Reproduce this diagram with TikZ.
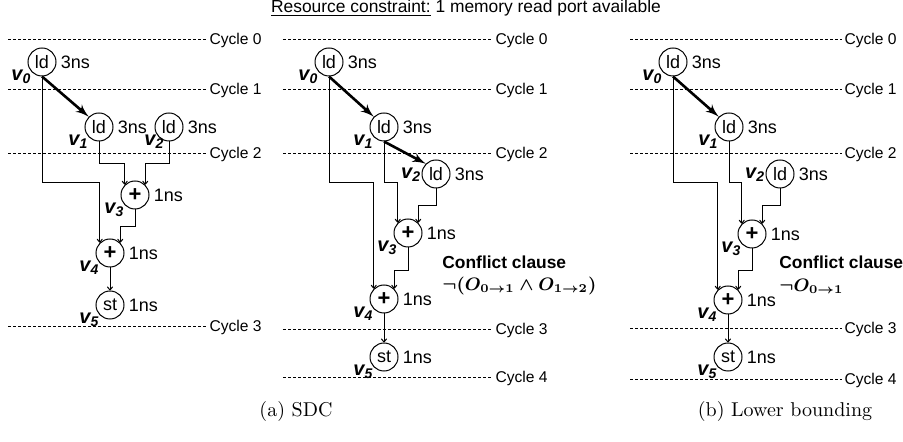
\documentclass[tikz,border=0pt]{standalone}
\usepackage{fontspec}
\setsansfont{Liberation Sans}
\usepackage{amsmath, amssymb}
\usetikzlibrary{positioning, arrows, arrows.meta}

\newcommand{\vlbl}[1]{{\bfseries\itshape v\textsubscript{#1}}}

\tikzset{
    op/.style={draw, circle, line width=0.5pt, minimum size=14pt,
        inner sep=0pt, font=\sffamily\fontsize{9}{9}\selectfont},
    plusop/.style={op, font=\sffamily\bfseries\fontsize{11}{11}\selectfont},
    delay/.style={font=\sffamily\fontsize{9}{9}\selectfont, inner sep=1pt,
        label distance=1pt},
    vname/.style={font=\sffamily\fontsize{10}{10}\selectfont, inner sep=0pt,
        yshift=1.5pt},
    cyc/.style={dash pattern=on 1.5pt off 1pt, line width=0.5pt},
    cyclbl/.style={right, inner sep=1pt, font=\sffamily\fontsize{7.8}{8}\selectfont},
    flow/.style={-{To[length=2pt, width=3pt]}, line width=0.5pt},
    hot/.style={->, line width=1.3pt},
    clause/.style={anchor=west, inner sep=0pt, font=\sffamily\bfseries\fontsize{8.7}{9}\selectfont},
}

\begin{document}
\begin{tikzpicture}[>=latex', x=0.5pt, y=-0.5pt, font=\sffamily]
    \useasboundingbox (0,0) rectangle (903,442);

    \node [font=\sffamily\fontsize{8.7}{9}\selectfont] (titel) at (466,8)
        {\underline{Resource constraint:} 1 memory read port available};

    % (a) SDC, linker graaf
    \foreach \y/\n in {40/0, 90/1, 154/2, 327/3}
        \draw [cyc] (8,\y) -- (207,\y) node [cyclbl] (a-cyc\n) {Cycle \n};

    \node [op, label={[delay]right:3ns}, label={[vname]below left:\vlbl{0}}] (a0) at (42,62) {ld};
    \node [op, label={[delay]right:3ns}, label={[vname]below left:\vlbl{1}}] (a1) at (99,127) {ld};
    \node [op, label={[delay]right:3ns}, label={[vname, xshift=3pt]below left:\vlbl{2}}] (a2) at (169,127) {ld};
    \node [plusop, label={[delay]right:1ns}, label={[vname]below left:\vlbl{3}}] (a3) at (135,195) {+};
    \node [plusop, label={[delay]right:1ns}, label={[vname]below left:\vlbl{4}}] (a4) at (110,253) {+};
    \node [op, label={[delay]right:1ns}, label={[vname]below left:\vlbl{5}}] (a5) at (110,305) {st};

    \draw [hot] (a0.south) -- (a1.north west);
    \draw [flow] (a0.south) -- ++(0,106) -| (a4.north west);
    \draw [flow] (a1.south) -- ++(0,22) -| (a3.north west);
    \draw [flow] (a2.south) -- ++(0,22) -| (a3.north east);
    \draw [flow] (a3.south) -- ++(0,17) -| (a4.north east);
    \draw [flow] (a4) -- (a5);

    % (a) SDC, middelste graaf
    \foreach \y/\n in {40/0, 90/1, 154/2, 330/3, 378/4}
        \draw [cyc] (283,\y) -- (493,\y) node [cyclbl] (b-cyc\n) {Cycle \n};

    \node [op, label={[delay]right:3ns}, label={[vname]below left:\vlbl{0}}] (b0) at (329,62) {ld};
    \node [op, label={[delay]right:3ns}, label={[vname]below left:\vlbl{1}}] (b1) at (384,127) {ld};
    \node [op, label={[delay]right:3ns}, label={[vname, yshift=-2pt]left:\vlbl{2}}] (b2) at (436,174) {ld};
    \node [plusop, label={[delay]right:1ns}, label={[vname]below left:\vlbl{3}}] (b3) at (408,233) {+};
    \node [plusop, label={[delay]right:1ns}, label={[vname]below left:\vlbl{4}}] (b4) at (384,299) {+};
    \node [op, label={[delay]right:1ns}, label={[vname]below left:\vlbl{5}}] (b5) at (384,357) {st};

    \draw [hot] (b0.south) -- (b1.north west);
    \draw [hot] (b1.south) -- (b2.north west);
    \draw [flow] (b0.south) -- ++(0,106) -| (b4.north west);
    \draw [flow] (b1.south) -- ++(0,41) -| (b3.north west);
    \draw [flow] (b2.south) -- ++(0,17) -| (b3.north east);
    \draw [flow] (b3.south) -- ++(0,23) -| (b4.north east);
    \draw [flow] (b4) -- (b5);

    \node [clause] (b-conflict) at (442,262) {Conflict clause};
    \node [clause] (b-formule) at (442,286)
        {$\boldsymbol{\neg(O_{0\rightarrow 1} \wedge O_{1\rightarrow 2})}$};

    % (b) lower bounding
    \foreach \y/\n in {40/0, 90/1, 154/2, 329/3, 380/4}
        \draw [cyc] (630,\y) -- (842,\y) node [cyclbl] (c-cyc\n) {Cycle \n};

    \node [op, label={[delay]right:3ns}, label={[vname]below left:\vlbl{0}}] (c0) at (673,62) {ld};
    \node [op, label={[delay]right:3ns}, label={[vname]below left:\vlbl{1}}] (c1) at (729,127) {ld};
    \node [op, label={[delay]right:3ns}, label={[vname, yshift=-2pt]left:\vlbl{2}}] (c2) at (780,174) {ld};
    \node [plusop, label={[delay]right:1ns}, label={[vname]below left:\vlbl{3}}] (c3) at (752,234) {+};
    \node [plusop, label={[delay]right:1ns}, label={[vname]below left:\vlbl{4}}] (c4) at (728,300) {+};
    \node [op, label={[delay]right:1ns}, label={[vname]below left:\vlbl{5}}] (c5) at (728,357) {st};

    \draw [hot] (c0.south) -- (c1.north west);
    \draw [flow] (c0.south) -- ++(0,106) -| (c4.north west);
    \draw [flow] (c1.south) -- ++(0,41) -| (c3.north west);
    \draw [flow] (c2.south) -- ++(0,17) -| (c3.north east);
    \draw [flow] (c3.south) -- ++(0,22) -| (c4.north east);
    \draw [flow] (c4) -- (c5);

    \node [clause] (c-conflict) at (779,262) {Conflict clause};
    \node [clause] (c-formule) at (779,286)
        {$\boldsymbol{\neg O_{0\rightarrow 1}}$};

    % onderschriften
    \node [font=\rmfamily\fontsize{10}{12}\selectfont] (cap-a) at (296,411) {(a) SDC};
    \node [font=\rmfamily\fontsize{10}{12}\selectfont] (cap-b) at (785,411) {(b) Lower bounding};
\end{tikzpicture}
\end{document}
